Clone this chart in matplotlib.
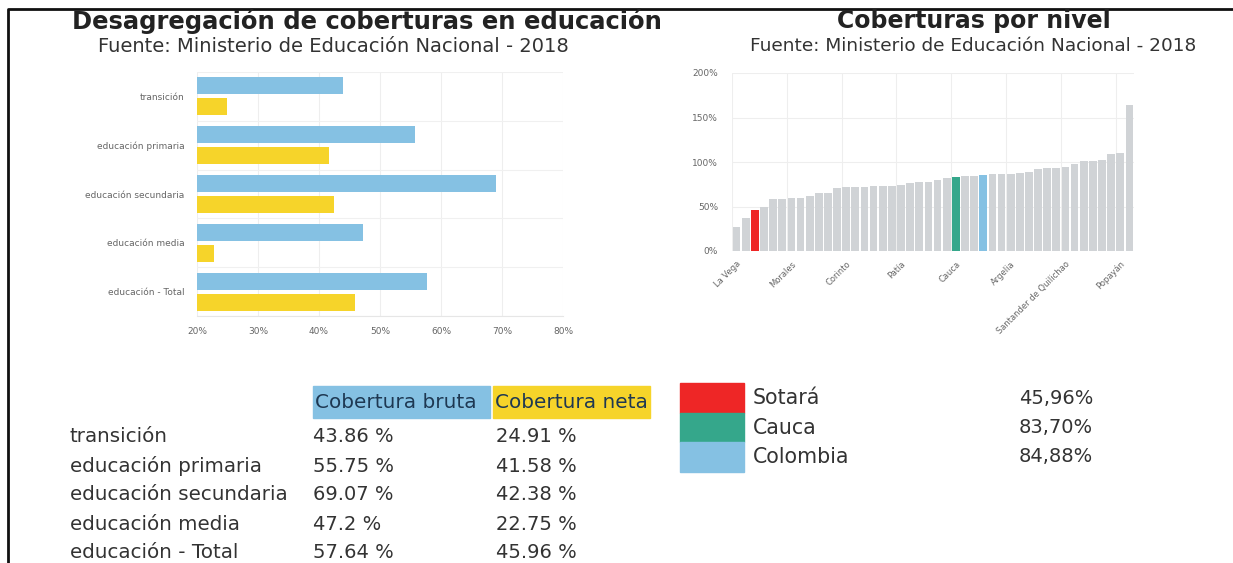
import numpy as np
import matplotlib
matplotlib.use('Agg')
import matplotlib.pyplot as plt
from matplotlib.patches import Rectangle

# datos: coberturas por nivel educativo (Sotará)
niveles = ['transición', 'educación primaria', 'educación secundaria',
           'educación media', 'educación - Total']
bruta = [43.86, 55.75, 69.07, 47.2, 57.64]
neta = [24.91, 41.58, 42.38, 22.75, 45.96]

# cobertura por municipio, ordenada de menor a mayor
cobertura = [27, 37, 45.96, 50, 58, 58.5, 59, 59, 62, 65,
             65.5, 71, 71.5, 71.5, 72, 72.5, 73, 73.5, 74, 76,
             77, 78, 79.5, 81.5, 83.70, 84, 84.2, 84.88, 86, 86.5,
             87, 87.5, 88.5, 92, 93, 93.5, 94, 97.5, 101, 101.5,
             102, 109.5, 110, 164]
etiquetas_eje = ['La Vega', 'Morales', 'Corinto', 'Patía', 'Cauca',
                 'Argelia', 'Santander de Quilichao', 'Popayán']
paso_etiqueta = 6

destacados = ['Sotará', 'Cauca', 'Colombia']
valores_destacados = [45.96, 83.70, 84.88]
textos_destacados = ['45,96%', '83,70%', '84,88%']

AZUL = '#85c1e3'
AMARILLO = '#f6d42a'
ROJO = '#ee2626'
VERDE = '#35a78b'
GRIS = '#d0d3d6'
colores_destacados = [ROJO, VERDE, AZUL]

W, H = 1233, 563
plt.rcParams['font.family'] = ['DejaVu Sans']
fig = plt.figure(figsize=(W / 100, H / 100), dpi=100)


def px_axes(x0, y0, x1, y1):
    return fig.add_axes([x0 / W, 1 - y1 / H, (x1 - x0) / W, (y1 - y0) / H])


# ---- barras horizontales (izquierda) ----
ax1 = px_axes(197, 72, 563, 316)
y = np.arange(len(niveles))
ax1.barh(y - 0.215, [b - 20 for b in bruta], left=20, height=0.35, color=AZUL)
ax1.barh(y + 0.215, [n - 20 for n in neta], left=20, height=0.35, color=AMARILLO)
ax1.set_xlim(20, 80)
ax1.set_ylim(len(niveles) - 0.5, -0.5)
ax1.set_xticks(range(20, 81, 10))
ax1.set_xticklabels([f'{v}%' for v in range(20, 81, 10)])
ax1.set_yticks(y)
ax1.set_yticklabels(niveles)
ax1.set_yticks(np.arange(len(niveles) + 1) - 0.5, minor=True)
ax1.tick_params(axis='both', which='both', length=0, labelsize=6.5, labelcolor='#666666')
ax1.tick_params(axis='y', pad=9)
ax1.tick_params(axis='x', pad=8)
ax1.grid(axis='x', color='#eeeeee', linewidth=0.8)
ax1.grid(axis='y', which='minor', color='#f0f0f0', linewidth=0.8)
ax1.set_axisbelow(True)
for s in ax1.spines.values():
    s.set_visible(False)
ax1.spines['bottom'].set_visible(True)
ax1.spines['bottom'].set_color('#e6e6e6')

# ---- barras verticales (derecha) ----
ax2 = px_axes(732, 73, 1134, 251)
xb = np.arange(len(cobertura))
colores = [GRIS] * len(cobertura)
for val, col in zip(valores_destacados, colores_destacados):
    colores[cobertura.index(val)] = col
ax2.bar(xb, cobertura, width=0.85, color=colores)
ax2.set_xlim(-0.5, len(cobertura) - 0.5)
ax2.set_ylim(0, 200)
ax2.set_yticks(range(0, 201, 50))
ax2.set_yticklabels([f'{v}%' for v in range(0, 201, 50)])
pos = xb[::paso_etiqueta][:len(etiquetas_eje)]
ax2.set_xticks(pos)
ax2.set_xticklabels(etiquetas_eje, rotation=45, ha='right', rotation_mode='anchor')
ax2.set_xticks(np.arange(-0.5, len(cobertura), paso_etiqueta), minor=True)
ax2.tick_params(axis='both', which='both', length=0, labelsize=6, labelcolor='#666666')
ax2.tick_params(axis='y', pad=10, labelsize=6.5)
ax2.tick_params(axis='x', pad=6)
ax2.grid(axis='y', color='#eeeeee', linewidth=0.8)
ax2.grid(axis='x', which='minor', color='#eeeeee', linewidth=0.8)
ax2.set_axisbelow(True)
for s in ax2.spines.values():
    s.set_visible(False)

# ---- capa de textos en pixeles ----
ov = fig.add_axes([0, 0, 1, 1], zorder=-1)
ov.set_xlim(0, W)
ov.set_ylim(H, 0)
ov.axis('off')

# marco
ov.plot([8, 8, W], [H, 9, 9], color='#111111', linewidth=2, solid_capstyle='butt')

ov.text(367, 21, 'Desagregación de coberturas en educación', ha='center', va='center',
        fontsize=17.5, fontweight='bold', color='#222222')
ov.text(333, 46, 'Fuente: Ministerio de Educación Nacional - 2018', ha='center', va='center',
        fontsize=14, color='#333333')
ov.text(974, 21, 'Coberturas por nivel', ha='center', va='center',
        fontsize=17, fontweight='bold', color='#222222')
ov.text(973, 46, 'Fuente: Ministerio de Educación Nacional - 2018', ha='center', va='center',
        fontsize=13.3, color='#333333')

# tabla
ov.add_patch(Rectangle((313, 386), 177, 32, color=AZUL, zorder=0))
ov.add_patch(Rectangle((493, 386), 157, 32, color=AMARILLO, zorder=0))
ov.text(315, 403, 'Cobertura bruta', va='center', fontsize=14.4, color='#1e3852')
ov.text(495, 403, 'Cobertura neta', va='center', fontsize=14.4, color='#1e3852')
for i, (n, b, ne) in enumerate(zip(niveles, bruta, neta)):
    yy = 437 + i * 29
    ov.text(70, yy, n, va='center', fontsize=14.3, color='#333333')
    ov.text(313, yy, f'{b} %', va='center', fontsize=14, color='#333333')
    ov.text(496, yy, f'{ne} %', va='center', fontsize=14, color='#333333')

# leyenda de destacados
for i, (nom, txt, col) in enumerate(zip(destacados, textos_destacados, colores_destacados)):
    y0 = 383 + i * 29.5
    ov.add_patch(Rectangle((680, y0), 64, 29.5, color=col, zorder=0))
    ov.text(753, y0 + 15, nom, va='center', fontsize=14.8, color='#333333')
    ov.text(1093, y0 + 15, txt, va='center', ha='right', fontsize=14, color='#333333')

fig.savefig('out.png', dpi=100)
